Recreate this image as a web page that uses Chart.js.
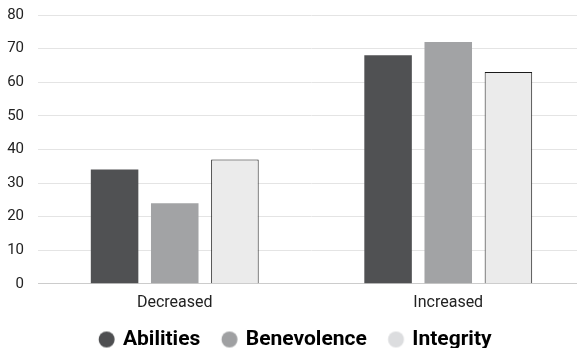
<!DOCTYPE html>
<html>
<head>
<meta charset="utf-8">
<script src="https://cdn.jsdelivr.net/npm/chart.js@4"></script>
<style>
  html, body { margin: 0; padding: 0; background: #fff; overflow: hidden; }
  #wrap { width: 592px; height: 348px; position: relative; }
</style>
</head>
<body>
<div id="wrap"><canvas id="chart"></canvas></div>
<script>
const categories = ['Decreased', 'Increased'];
const seriesNames = ['Abilities', 'Benevolence', 'Integrity'];
const abilities = [34, 68];
const benevolence = [24, 72];
const integrity = [37, 63];
const yTicks = [0, 10, 20, 30, 40, 50, 60, 70, 80];

const fills = ['#505153', '#a2a3a5', '#ebebeb'];
const legendFills = ['#4e4f51', '#9fa0a2', '#dcdddf'];

// Legend marker: a filled circle placed right of the marker box centre
function legendDot(color) {
  const c = document.createElement('canvas');
  c.width = 36; c.height = 18;
  const g = c.getContext('2d');
  g.fillStyle = color;
  g.beginPath();
  g.arc(26.7, 9, 8, 0, Math.PI * 2);
  g.fill();
  return c;
}
const legendDots = legendFills.map(legendDot);

new Chart(document.getElementById('chart'), {
  type: 'bar',
  data: {
    labels: categories,
    datasets: [
      { label: seriesNames[0], data: abilities, backgroundColor: fills[0], borderWidth: 0 },
      { label: seriesNames[1], data: benevolence, backgroundColor: fills[1], borderWidth: 0 },
      { label: seriesNames[2], data: integrity, backgroundColor: fills[2], borderColor: '#1a1a1a', borderWidth: 1 }
    ]
  },
  options: {
    responsive: true,
    maintainAspectRatio: false,
    animation: false,
    datasets: { bar: { barPercentage: 0.79, categoryPercentage: 0.66 } },
    layout: { padding: { left: -10, right: 7, top: 15, bottom: -12 } },
    scales: {
      x: {
        grid: { display: false, drawTicks: false },
        border: { color: '#cccccc', width: 1 },
        ticks: { color: '#222', font: { family: 'Roboto', size: 16 }, padding: 10 }
      },
      y: {
        min: 0, max: 80,
        afterBuildTicks: (axis) => { axis.ticks = yTicks.map(v => ({ value: v })); },
        afterFit: (axis) => { axis.width = 48; axis.paddingTop = 0; },
        grid: { color: '#e4e4e4', drawTicks: false, lineWidth: 1 },
        border: { display: false },
        ticks: { color: '#222', font: { family: 'Roboto', size: 15 }, padding: 14 }
      }
    },
    plugins: {
      tooltip: { enabled: false },
      legend: {
        position: 'bottom',
        labels: {
          usePointStyle: true,
          pointStyleWidth: 29,
          boxWidth: 29,
          boxHeight: 16,
          padding: 6,
          color: '#111',
          font: { family: 'Roboto', size: 21, weight: 'bold' },
          generateLabels: (chart) => chart.data.datasets.map((ds, i) => ({
            text: ds.label,
            fillStyle: legendFills[i],
            strokeStyle: legendFills[i],
            lineWidth: 0,
            pointStyle: legendDots[i],
            datasetIndex: i,
            hidden: false
          }))
        }
      }
    }
  }
});
</script>
</body>
</html>
